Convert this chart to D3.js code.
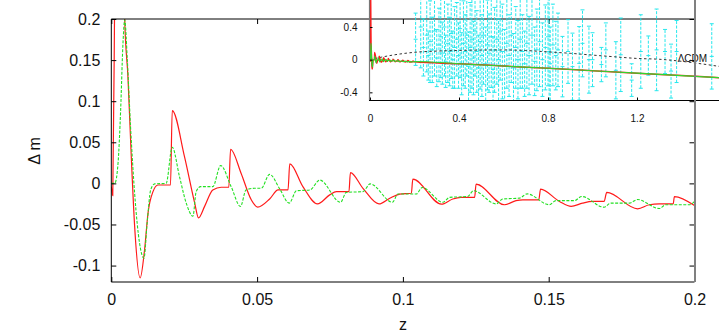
<!DOCTYPE html>
<html>
<head>
<meta charset="utf-8">
<script src="https://cdn.jsdelivr.net/npm/d3@7"></script>
<style>
  body { margin: 0; background: #fff; }
  svg { display: block; font-family: "Liberation Sans", Arial, sans-serif; }
</style>
</head>
<body>
<svg id="chart" width="719" height="336"></svg>
<script>
// red curve (solid), main panel
var zRed = [0, 0.0005, 0.0012, 0.0025, 0.0038, 0.0046, 0.0057, 0.0069, 0.0080, 0.0099,
    0.0114, 0.0126, 0.0143, 0.0160, 0.0203, 0.0209, 0.0251, 0.0286, 0.0299, 0.0320,
    0.0348, 0.0377, 0.0403, 0.0409, 0.0445, 0.0480, 0.0502, 0.0543, 0.0572, 0.0606,
    0.0612, 0.0657, 0.0707, 0.0749, 0.0772, 0.0815, 0.0820, 0.0863, 0.0918, 0.0955,
    0.0989, 0.1029, 0.1034, 0.1132, 0.1171, 0.1199, 0.1246, 0.1251, 0.1348, 0.1388,
    0.1411, 0.1466, 0.1472, 0.1537, 0.1577, 0.1616, 0.1651, 0.1690, 0.1699, 0.1805,
    0.1845, 0.1879, 0.1927, 0.1931, 0.2];
var dmRed = [-0.004, -0.015, 0.25, 0.9, 0.45, 0.2, 0.130, 0.0285, -0.052, -0.115,
    -0.081, -0.036, -0.010, -0.002, -0.002, 0.0885, 0.0326, -0.024, -0.042, -0.028,
    -0.008, -0.0047, -0.0047, 0.0415, 0.0124, -0.020, -0.029, -0.019, -0.008, -0.008,
    0.0237, -0.004, -0.025, -0.014, -0.010, -0.010, 0.0131, -0.006, -0.025, -0.018,
    -0.013, -0.012, 0.0051, -0.0253, -0.019, -0.017, -0.017, -0.001, -0.026, -0.021,
    -0.020, -0.020, -0.007, -0.022, -0.028, -0.024, -0.022, -0.022, -0.011, -0.031,
    -0.026, -0.025, -0.025, -0.016, -0.027];

// green curve (dashed), main panel
var zGreen = [0, 0.0012, 0.0023, 0.0032, 0.0040, 0.0046, 0.0055, 0.0066, 0.0080, 0.0097,
    0.0112, 0.0123, 0.0135, 0.0149, 0.0188, 0.0209, 0.0234, 0.0257, 0.0280, 0.0291,
    0.0306, 0.0348, 0.0375, 0.0411, 0.0443, 0.0462, 0.0491, 0.0514, 0.0543, 0.0578,
    0.0610, 0.0635, 0.0681, 0.0715, 0.0786, 0.0806, 0.0863, 0.0888, 0.0964, 0.0983,
    0.1046, 0.1066, 0.1137, 0.1160, 0.1222, 0.1242, 0.1320, 0.1342, 0.1400, 0.1426,
    0.1502, 0.1525, 0.1588, 0.1613, 0.1690, 0.1713, 0.1776, 0.1805, 0.1879, 0.1902,
    0.1982, 0.2];
var dmGreen = [0, 0, 0.024, 0.089, 0.170, 0.199, 0.150, 0.069, -0.012, -0.073,
    -0.091, -0.048, -0.008, -0.0006, 0, 0.044, 0.008, -0.024, -0.040, -0.010,
    -0.004, -0.004, 0.0217, -0.004, -0.028, -0.008, -0.006, -0.006, 0.011, -0.007,
    -0.024, -0.009, -0.008, 0.004, -0.023, -0.011, -0.010, -0.0006, -0.023, -0.013,
    -0.013, -0.005, -0.023, -0.017, -0.016, -0.009, -0.025, -0.019, -0.018, -0.0128,
    -0.026, -0.021, -0.021, -0.016, -0.029, -0.024, -0.024, -0.0197, -0.0306, -0.026,
    -0.026, -0.022];

// both models beyond z = 0.2 (inset only)
var zFar = [0.2, 0.4, 0.6, 0.8, 1.0, 1.2, 1.4, 1.6];
var dmFar = [-0.025, -0.05, -0.078, -0.105, -0.135, -0.165, -0.195, -0.225];

// LCDM reference (inset)
var zLcdm = [0, 0.05, 0.1, 0.2, 0.3, 0.4, 0.5, 0.6, 0.7, 0.8, 0.9, 1.0, 1.1, 1.2, 1.3, 1.4, 1.5, 1.6];
var dmLcdm = [0, 0.03, 0.055, 0.09, 0.105, 0.113, 0.118, 0.119, 0.112, 0.095, 0.078, 0.056, 0.035, 0.015, 0.005, -0.02, -0.055, -0.095];

// supernova data (inset): redshift, residual, error
var zSN = [0.205, 0.228, 0.24, 0.255, 0.262, 0.27, 0.28, 0.29, 0.3, 0.31,
    0.318, 0.325, 0.335, 0.34, 0.35, 0.358, 0.365, 0.372, 0.38, 0.39,
    0.398, 0.405, 0.412, 0.42, 0.428, 0.435, 0.443, 0.45, 0.458, 0.465,
    0.472, 0.48, 0.488, 0.495, 0.503, 0.51, 0.52, 0.528, 0.535, 0.545,
    0.553, 0.56, 0.57, 0.578, 0.585, 0.595, 0.605, 0.615, 0.625, 0.635,
    0.645, 0.655, 0.665, 0.675, 0.685, 0.695, 0.705, 0.715, 0.728, 0.74,
    0.75, 0.762, 0.775, 0.788, 0.8, 0.805, 0.81, 0.822, 0.835, 0.845,
    0.865, 0.89, 0.91, 0.94, 0.955, 0.984, 1.0, 1.04, 1.06, 1.105,
    1.127, 1.176, 1.217, 1.251, 1.288, 1.326, 1.353, 1.378, 1.536];
var dmSN = [0.25, 0.4, 0.15, 0.3, 0.05, 0.22, 0.12, 0.35, 0.02, 0.18,
    0.28, 0.08, 0.4, -0.02, 0.2, 0.1, 0.32, 0, 0.15, 0.25,
    0.05, 0.38, -0.05, 0.2, 0.1, 0.3, -0.08, 0.15, 0.25, 0.02,
    0.35, 0.1, -0.1, 0.22, 0.05, 0.3, -0.05, 0.18, 0.08, 0.28,
    -0.12, 0.12, 0.25, 0, 0.35, 0.1, -0.08, 0.2, 0.05, 0.3,
    -0.1, 0.15, 0, 0.25, 0.1, -0.05, 0.2, 0.05, 0.3, -0.02,
    0.12, 0.22, 0, 0.15, 0.28, 0.1, -0.05, 0.18, 0.05, 0.12,
    -0.085, 0.1, -0.085, -0.045, 0.2, 0, 0, -0.06, 0.12, -0.13,
    0.06, -0.25, 0.1, 0.05, 0.12, 0.1, -0.14, 0.1, 0.04];
var errSN = [0.32, 0.5, 0.35, 0.45, 0.3, 0.5, 0.4, 0.55, 0.35, 0.45,
    0.5, 0.38, 0.6, 0.32, 0.48, 0.42, 0.55, 0.35, 0.5, 0.45,
    0.4, 0.6, 0.38, 0.52, 0.45, 0.5, 0.42, 0.55, 0.6, 0.45,
    0.55, 0.5, 0.4, 0.58, 0.5, 0.6, 0.45, 0.55, 0.48, 0.62,
    0.4, 0.52, 0.55, 0.5, 0.6, 0.58, 0.45, 0.55, 0.5, 0.58,
    0.42, 0.5, 0.48, 0.6, 0.45, 0.4, 0.55, 0.48, 0.6, 0.42,
    0.5, 0.55, 0.45, 0.52, 0.6, 0.65, 0.45, 0.5, 0.42, 0.45,
    0.37, 0.39, 0.41, 0.45, 0.41, 0.41, 0.33, 0.21, 0.33, 0.35,
    0.45, 0.2, 0.45, 0.24, 0.5, 0.27, 0.33, 0.38, 0.4];

var yTicks = [-0.1, -0.05, 0, 0.05, 0.1, 0.15, 0.2];
var xTicks = [0, 0.05, 0.1, 0.15, 0.2];
var insetXTicks = [0, 0.4, 0.8, 1.2, 1.6];
var insetYTicks = [-0.4, 0, 0.4];

var fmt = function (d) { return d === 0 ? "0" : String(+d.toFixed(2)); };

var svg = d3.select("#chart");

var mLeft = 111.3, mRight = 694.5, mTop = 19, mBottom = 282;

var x = d3.scaleLinear().domain([0, 0.2]).range([mLeft, mRight]);
var y = d3.scaleLinear().domain([-0.12, 0.2]).range([mBottom, mTop]);

var xi = d3.scaleLinear().domain([0, 1.6]).range([370, 726]);
var yi = d3.scaleLinear().domain([-0.5, 1]).range([100.5, -22]);

var defs = svg.append("defs");
defs.append("clipPath").attr("id", "clipMain")
    .append("rect").attr("x", mLeft).attr("y", mTop).attr("width", mRight - mLeft).attr("height", mBottom - mTop);
defs.append("clipPath").attr("id", "clipInset")
    .append("rect").attr("x", 370).attr("y", -22).attr("width", 356).attr("height", 122.5);

function zip(zs, vs) {
    return zs.map(function (z, i) { return [z, vs[i]]; });
}

var line = d3.line()
    .x(function (d) { return x(d[0]); })
    .y(function (d) { return y(d[1]); })
    .curve(d3.curveMonotoneX);

// main curves
var main = svg.append("g").attr("clip-path", "url(#clipMain)");

main.append("path")
    .attr("d", line(zip(zRed, dmRed)))
    .attr("fill", "none")
    .attr("stroke", "#ff1a1a")
    .attr("stroke-width", 1.2);

main.append("path")
    .attr("d", line(zip(zGreen, dmGreen)))
    .attr("fill", "none")
    .attr("stroke", "#22e022")
    .attr("stroke-width", 1.1)
    .attr("stroke-dasharray", "3,1.5");

// main axes: inward ticks on all sides
function styleAxis(g, size) {
    g.select(".domain").remove();
    g.selectAll("line").attr("stroke", "#000");
    g.selectAll("text").attr("fill", "#111").style("font-size", size + "px");
}

svg.append("g")
    .attr("transform", "translate(" + mLeft + ",0)")
    .call(d3.axisLeft(y).tickValues(yTicks).tickFormat(fmt).tickSize(-5).tickPadding(11))
    .call(styleAxis, 16);

svg.append("g")
    .attr("transform", "translate(" + mRight + ",0)")
    .call(d3.axisRight(y).tickValues(yTicks).tickFormat("").tickSize(-5))
    .call(styleAxis, 16);

svg.append("g")
    .attr("transform", "translate(0," + mBottom + ")")
    .call(d3.axisBottom(x).tickValues(xTicks).tickFormat(fmt).tickSize(-5).tickPadding(12))
    .call(styleAxis, 16);

svg.append("g")
    .attr("transform", "translate(0," + mTop + ")")
    .call(d3.axisTop(x).tickValues(xTicks).tickFormat("").tickSize(-5))
    .call(styleAxis, 16);

// frame
svg.append("path")
    .attr("d", "M" + mRight + "," + mTop + "H" + mLeft + "V" + mBottom + "H" + mRight)
    .attr("fill", "none")
    .attr("stroke", "#000")
    .attr("stroke-width", 1);

svg.append("text")
    .attr("transform", "translate(40,151) rotate(-90)")
    .attr("text-anchor", "middle")
    .style("font-size", "16px")
    .attr("fill", "#111")
    .text("Δ m");

svg.append("text")
    .attr("x", x(0.1))
    .attr("y", 330)
    .attr("text-anchor", "middle")
    .style("font-size", "16px")
    .attr("fill", "#111")
    .text("z");

// ---- inset ----
var inset = svg.append("g").attr("clip-path", "url(#clipInset)");

var sn = zSN.map(function (z, i) { return { z: z, m: dmSN[i], e: errSN[i] }; });
var snColor = "#10e6ec";

var bars = inset.append("g").attr("opacity", 0.9);

bars.selectAll("line.bar")
    .data(sn)
    .enter()
    .append("line")
    .attr("class", "bar")
    .attr("x1", function (d) { return xi(d.z); })
    .attr("x2", function (d) { return xi(d.z); })
    .attr("y1", function (d) { return yi(d.m - d.e); })
    .attr("y2", function (d) { return yi(d.m + d.e); })
    .attr("stroke", snColor)
    .attr("stroke-width", 1)
    .attr("stroke-dasharray", "3,1.5");

["lo", "hi", "mid"].forEach(function (k) {
    bars.selectAll("line.cap-" + k)
        .data(sn)
        .enter()
        .append("line")
        .attr("class", "cap-" + k)
        .attr("x1", function (d) { return xi(d.z) - 2; })
        .attr("x2", function (d) { return xi(d.z) + 2; })
        .attr("y1", function (d) { return yi(k == "lo" ? d.m - d.e : k == "hi" ? d.m + d.e : d.m); })
        .attr("y2", function (d) { return yi(k == "lo" ? d.m - d.e : k == "hi" ? d.m + d.e : d.m); })
        .attr("stroke", snColor)
        .attr("stroke-width", 1);
});

var lineI = d3.line()
    .x(function (d) { return xi(d[0]); })
    .y(function (d) { return yi(d[1]); })
    .curve(d3.curveMonotoneX);

inset.append("path")
    .attr("d", lineI(zip(zLcdm, dmLcdm)))
    .attr("fill", "none")
    .attr("stroke", "#333")
    .attr("stroke-width", 1)
    .attr("stroke-dasharray", "2.5,2.5");

var redAll = zip(zRed, dmRed).concat(zip(zFar.slice(1), dmFar.slice(1)));
var greenAll = zip(zGreen, dmGreen).concat(zip(zFar.slice(1), dmFar.slice(1)));

inset.append("path")
    .attr("d", lineI(redAll))
    .attr("fill", "none")
    .attr("stroke", "#ff1a1a")
    .attr("stroke-width", 1.5);

inset.append("path")
    .attr("d", lineI(greenAll))
    .attr("fill", "none")
    .attr("stroke", "#2ed82e")
    .attr("stroke-width", 1.1);

svg.append("text")
    .attr("x", xi(1.515))
    .attr("y", yi(-0.03))
    .attr("text-anchor", "end")
    .style("font-size", "10px")
    .attr("fill", "#111")
    .text("ΛCDM");

// inset axes
svg.append("g")
    .attr("transform", "translate(369.5,0)")
    .call(d3.axisLeft(yi).tickValues(insetYTicks).tickFormat(fmt).tickSize(-3).tickPadding(12))
    .call(styleAxis, 10);

svg.append("g")
    .attr("transform", "translate(0,100.5)")
    .call(d3.axisBottom(xi).tickValues(insetXTicks).tickFormat(fmt).tickSize(-3).tickPadding(14))
    .call(styleAxis, 10);

svg.append("line")
    .attr("x1", 369.5).attr("x2", 369.5)
    .attr("y1", 0).attr("y2", 100.5)
    .attr("stroke", "#777").attr("stroke-width", 1.2);

svg.append("line")
    .attr("x1", 369).attr("x2", 719)
    .attr("y1", 100.5).attr("y2", 100.5)
    .attr("stroke", "#000").attr("stroke-width", 1);

// right edge of the main box
svg.append("line")
    .attr("x1", mRight + 0.5).attr("x2", mRight + 0.5)
    .attr("y1", 0).attr("y2", mBottom)
    .attr("stroke", "#808080").attr("stroke-width", 2);
</script>
</body>
</html>
